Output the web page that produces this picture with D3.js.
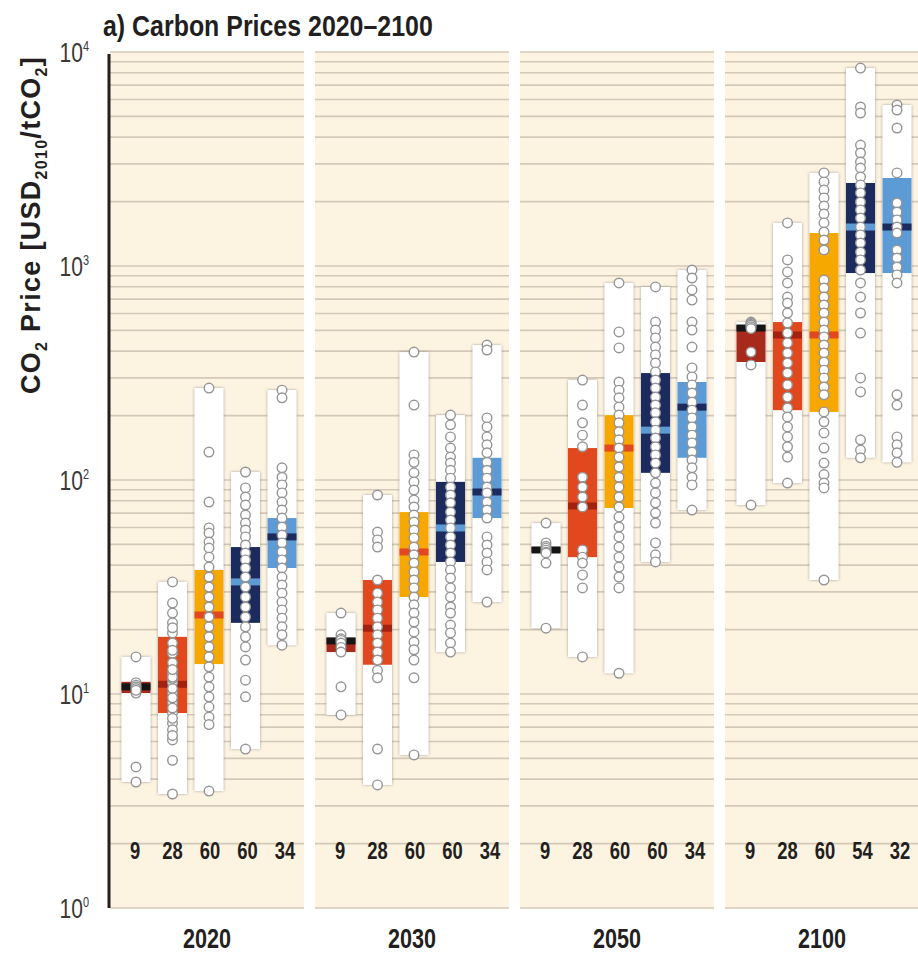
<!DOCTYPE html>
<html>
<head>
<meta charset="utf-8">
<script src="https://cdn.jsdelivr.net/npm/d3@7"></script>
<style>
  body { margin: 0; background: #fff; }
  svg { display: block; }
</style>
</head>
<body>
<svg width="918" height="955"></svg>
<script>
/* global d3 */

// years (panels) and the five scenario categories inside each panel
const years = ['2020', '2030', '2050', '2100'];
const categories = ['c1', 'c2', 'c3', 'c4', 'c5'];

// number of scenarios per box
const counts = [
  [9, 28, 60, 60, 34],
  [9, 28, 60, 60, 34],
  [9, 28, 60, 60, 34],
  [9, 28, 60, 54, 32],
];

// range (min/max), interquartile range (q1/q3) and median, USD2010/tCO2
const minVals = [
  [3.88, 3.41, 3.52, 5.53, 16.9],
  [7.98, 3.76, 5.19, 15.7, 26.9],
  [20.3, 14.9, 12.5, 41.4, 72.4],
  [76.4, 96.8, 34.1, 127, 121],
];
const q1Vals = [
  [10.1, 8.15, 13.8, 21.5, 38.8],
  [15.7, 13.7, 28.4, 41.4, 66.4],
  [46.0, 43.6, 74.0, 108, 127],
  [356, 212, 208, 927, 927],
];
const medVals = [
  [10.8, 11.1, 23.4, 33.4, 54.2],
  [17.7, 20.3, 46.1, 59.7, 87.9],
  [47.1, 75.6, 141, 171, 219],
  [513, 476, 476, 1521, 1521],
];
const q3Vals = [
  [11.4, 18.5, 38.0, 48.6, 66.4],
  [18.3, 34.1, 70.8, 98, 127],
  [48.5, 141, 201, 316, 287],
  [530, 547, 1426, 2443, 2578],
];
const maxVals = [
  [14.9, 33.4, 269, 109, 263],
  [23.9, 85.1, 396, 201, 427],
  [62.9, 293, 833, 798, 958],
  [547, 1589, 2722, 8414, 5653],
];

// individual scenario values (visible circles)
const points2020 = [
  [14.9, 11.3, 11.0, 10.8, 10.6, 10.1, 10.4, 4.56, 3.88],
  [33.4, 26.6, 23.9, 21.5, 19.3, 17.3, 15.5, 14.0, 12.5, 11.3, 10.1, 9.1, 8.15, 7.3, 6.8, 6.1, 4.9, 3.41, 11.8, 10.6, 9.6, 12.0, 13.0, 8.6, 7.7, 16.0, 20.4, 6.4],
  [269, 135, 78.9, 59.7, 56.5, 51.3, 48.1, 43.6, 39.2, 35.2, 31.6, 28.4, 25.5, 22.9, 20.6, 18.5, 16.6, 14.9, 13.4, 12.0, 10.8, 9.7, 8.7, 7.8, 7.2, 3.52],
  [109, 91.8, 83.3, 76.4, 68.6, 62.9, 58.4, 54.2, 49.7, 45.6, 42.3, 38.8, 35.2, 31.6, 28.4, 25.5, 22.9, 20.6, 18.5, 16.6, 14.4, 11.6, 9.7, 5.53],
  [263, 242, 114, 103, 94.8, 87.0, 78.9, 72.4, 66.4, 60.3, 55.3, 50.8, 46.1, 42.3, 38.8, 35.2, 32.3, 29.6, 26.9, 24.7, 22.6, 20.6, 18.9, 16.9],
];
const points2030 = [
  [23.9, 18.9, 18.1, 17.8, 17.3, 16.5, 15.7, 10.8, 7.98],
  [85.1, 57.1, 52.5, 48.6, 34.1, 29.6, 26.9, 24.7, 22.6, 20.6, 18.9, 17.3, 15.7, 14.4, 12.9, 11.9, 5.53, 3.76],
  [396, 224, 131, 121, 108, 98, 89.8, 80.6, 74.8, 68.6, 63.6, 58.4, 53.6, 48.6, 44.7, 40.9, 37.2, 34.1, 31.3, 28.4, 26.1, 23.9, 21.7, 19.5, 17.5, 16.1, 14.4, 11.9, 5.19],
  [201, 181, 159, 141, 128, 120, 111, 102, 92.7, 85.1, 78.2, 70.8, 65.0, 59.7, 54.2, 49.7, 45.6, 41.4, 38.0, 34.8, 31.3, 28.4, 25.5, 23.9, 21.0, 19.3, 17.3, 15.7],
  [427, 405, 195, 177, 159, 146, 134, 121, 111, 102, 92.7, 87, 78.9, 72.4, 66.4, 54.2, 49.7, 45.6, 41.4, 38.0, 26.9],
];
const points2050 = [
  [62.9, 50.8, 49, 48, 47, 46, 45.6, 40.9, 20.3],
  [293, 224, 185, 162, 143, 103, 92.7, 83.3, 74.8, 47.1, 43.6, 40.9, 36.0, 31.3, 14.9],
  [833, 492, 414, 287, 263, 242, 219, 201, 185, 168, 154, 141, 128, 115, 103, 92.7, 83.3, 74.8, 67.2, 60.3, 54.2, 48.6, 43.6, 39.2, 35.2, 31.3, 12.5],
  [798, 547, 502, 461, 418, 384, 352, 320, 293, 269, 244, 224, 206, 187, 171, 157, 143, 131, 120, 108, 96.8, 87, 78.2, 70.1, 62.9, 50.8, 44.7, 41.4],
  [958, 879, 773, 693, 547, 502, 418, 334, 303, 278, 255, 231, 212, 195, 177, 162, 149, 135, 124, 114, 103, 94.8, 72.4],
];
const points2100 = [
  [547, 540, 535, 530, 520, 510, 396, 345, 76.4],
  [1589, 1067, 938, 833, 716, 671, 603, 542, 486, 437, 392, 352, 316, 278, 244, 217, 197, 177, 159, 143, 128, 96.8],
  [2722, 2470, 2265, 2080, 1906, 1749, 1589, 1442, 1322, 1188, 860, 789, 716, 657, 603, 547, 502, 466, 427, 392, 356, 326, 300, 272, 250, 208, 187, 166, 141, 120, 106, 96.8, 91.8, 34.1],
  [8414, 5534, 5188, 3675, 3373, 3062, 2871, 2606, 2393, 2195, 1991, 1828, 1675, 1521, 1397, 1281, 1162, 1067, 958, 833, 716, 603, 486, 300, 258, 154, 138, 127],
  [5653, 5358, 4414, 2722, 1968, 1786, 1641, 1521, 1426, 1188, 1090, 989, 908, 833, 250, 224, 159, 146, 134, 121],
];
const points = [points2020, points2030, points2050, points2100];

const tickExponents = [0, 1, 2, 3, 4];

// styling
const boxColors = ['#a82a1c', '#e2481d', '#f6a800', '#1c2b5e', '#5c9bd6'];
const medColors = ['#151515', '#a3220f', '#e2481d', '#5c9bd6', '#1c2b5e'];
const sans = '"Liberation Sans", Arial, sans-serif';
const squeeze = 0.8;

const svg = d3.select('svg');

const y = d3.scaleLog().domain([1, 1e4]).range([908, 52]);
const panelX = d3.scaleBand().domain(years).range([110, 919]).paddingInner(11 / 205);
const boxX = d3.scaleBand().domain(categories).range([11.5, 186.5]).paddingInner(7.5 / 36.5);
const countX = d3.scalePoint().domain(categories).range([25, 175]);

const defs = svg.append('defs');
const shadow = defs.append('filter')
  .attr('id', 'shadow')
  .attr('x', '-40%').attr('y', '-10%')
  .attr('width', '180%').attr('height', '120%');
shadow.append('feDropShadow')
  .attr('dx', 0).attr('dy', 0)
  .attr('stdDeviation', 1.6)
  .attr('flood-color', '#707070')
  .attr('flood-opacity', 0.65);

// gridline values: every 1..9 x 10^k
const gridVals = [];
for (let k = 0; k < 4; k++) {
  for (let m = 1; m < 10; m++) gridVals.push(m * Math.pow(10, k));
}
gridVals.push(1e4);

const panels = svg.selectAll('g.panel')
  .data(years)
  .enter()
  .append('g')
  .attr('class', 'panel')
  .attr('transform', d => `translate(${panelX(d)},0)`);

panels.append('rect')
  .attr('x', 0)
  .attr('y', y(1e4))
  .attr('width', panelX.bandwidth())
  .attr('height', y(1) - y(1e4))
  .style('fill', '#fdf3e1');

panels.selectAll('line.grid')
  .data(gridVals)
  .enter()
  .append('line')
  .attr('class', 'grid')
  .attr('x1', 0)
  .attr('x2', panelX.bandwidth())
  .attr('y1', d => y(d))
  .attr('y2', d => y(d))
  .style('stroke', '#d4c9b8')
  .style('stroke-width', '1.6px');

panels.each(function (year, yi) {
  const g = d3.select(this);
  const rows = categories.map((c, ci) => ({
    c,
    ci,
    min: minVals[yi][ci],
    q1: q1Vals[yi][ci],
    med: medVals[yi][ci],
    q3: q3Vals[yi][ci],
    max: maxVals[yi][ci],
    pts: points[yi][ci],
    n: counts[yi][ci],
  }));

  // full range
  g.selectAll('rect.range')
    .data(rows)
    .enter()
    .append('rect')
    .attr('class', 'range')
    .attr('x', d => boxX(d.c))
    .attr('y', d => y(d.max))
    .attr('width', boxX.bandwidth())
    .attr('height', d => y(d.min) - y(d.max))
    .attr('filter', 'url(#shadow)')
    .style('fill', '#fff');

  // interquartile range
  g.selectAll('rect.iqr')
    .data(rows)
    .enter()
    .append('rect')
    .attr('class', 'iqr')
    .attr('x', d => boxX(d.c))
    .attr('y', d => y(d.q3))
    .attr('width', boxX.bandwidth())
    .attr('height', d => y(d.q1) - y(d.q3))
    .style('fill', d => boxColors[d.ci]);

  // median
  g.selectAll('rect.median')
    .data(rows)
    .enter()
    .append('rect')
    .attr('class', 'median')
    .attr('x', d => boxX(d.c))
    .attr('y', d => y(d.med) - 3.5)
    .attr('width', boxX.bandwidth())
    .attr('height', 7)
    .style('fill', d => medColors[d.ci]);

  // individual scenarios
  rows.forEach(r => {
    g.selectAll(null)
      .data(r.pts)
      .enter()
      .append('circle')
      .attr('cx', boxX(r.c) + boxX.bandwidth() / 2)
      .attr('cy', d => y(d))
      .attr('r', 4.8)
      .style('fill', '#fff')
      .style('stroke', '#959595')
      .style('stroke-width', '1.4px');
  });

  // scenario counts
  g.selectAll('text.count')
    .data(rows)
    .enter()
    .append('text')
    .attr('class', 'count')
    .attr('transform', d => `translate(${countX(d.c)},859) scale(${squeeze},1)`)
    .attr('text-anchor', 'middle')
    .style('font-family', sans)
    .style('font-weight', 'bold')
    .style('font-size', '23px')
    .style('fill', '#231f20')
    .text(d => d.n);
});

// year labels
svg.selectAll('text.year')
  .data(years)
  .enter()
  .append('text')
  .attr('class', 'year')
  .attr('transform', d => `translate(${panelX(d) + panelX.bandwidth() / 2},948) scale(${squeeze},1)`)
  .attr('text-anchor', 'middle')
  .style('font-family', sans)
  .style('font-weight', 'bold')
  .style('font-size', '27px')
  .style('fill', '#231f20')
  .text(d => d);

// y axis line
svg.append('line')
  .attr('x1', 109).attr('x2', 109)
  .attr('y1', y(1e4) + 2).attr('y2', y(1))
  .style('stroke', '#231f20')
  .style('stroke-width', '3px');

// y tick labels 10^k
const ticks = svg.selectAll('text.tick')
  .data(tickExponents)
  .enter()
  .append('text')
  .attr('class', 'tick')
  .attr('transform', d => `translate(89,${y(Math.pow(10, d)) + 10}) scale(0.78,1)`)
  .attr('text-anchor', 'end')
  .style('font-family', sans)
  .style('font-size', '27px')
  .style('fill', '#3a3a3a');
ticks.append('tspan').text('10');
ticks.append('tspan')
  .attr('dy', -11)
  .style('font-size', '14px')
  .text(d => d);

// y axis title
const yTitle = svg.append('text')
  .attr('transform', 'translate(40,225) rotate(-90)')
  .attr('text-anchor', 'middle')
  .style('font-family', sans)
  .style('font-weight', 'bold')
  .style('font-size', '27px')
  .style('letter-spacing', '1.3px')
  .style('fill', '#231f20');
yTitle.append('tspan').text('CO');
yTitle.append('tspan').attr('dy', 7).style('font-size', '16px').text('2');
yTitle.append('tspan').attr('dy', -7).text(' Price [USD');
yTitle.append('tspan').attr('dy', 7).style('font-size', '16px').text('2010');
yTitle.append('tspan').attr('dy', -7).text('/tCO');
yTitle.append('tspan').attr('dy', 7).style('font-size', '16px').text('2');
yTitle.append('tspan').attr('dy', -7).text(']');

// chart title
svg.append('text')
  .attr('transform', 'translate(103,36) scale(0.86,1)')
  .style('font-family', sans)
  .style('font-weight', 'bold')
  .style('font-size', '29px')
  .style('fill', '#231f20')
  .text('a) Carbon Prices 2020\u20132100');
</script>
</body>
</html>
